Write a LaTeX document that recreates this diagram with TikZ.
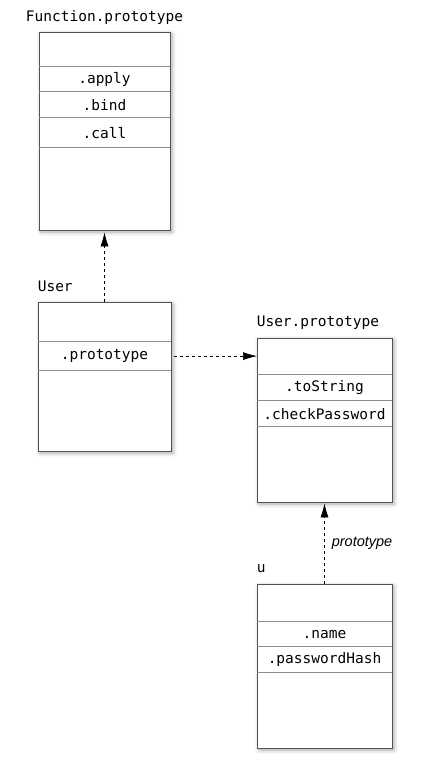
\documentclass[tikz,border=0pt]{standalone}
\usepackage{fontspec}
\setmonofont{DejaVu Sans Mono}
\setsansfont{Liberation Sans}
\usetikzlibrary{positioning,shadows.blur,arrows.meta}

\begin{document}
\begin{tikzpicture}[x=1pt,y=-1pt]
    \tikzstyle{obj}=[draw=black!68,fill=white,line width=0.8pt,inner sep=0pt,
                     blur shadow={shadow xshift=2pt,shadow yshift=-2pt,
                                  shadow blur radius=4pt,shadow opacity=35}]
    \tikzstyle{slot}=[inner sep=0pt,outer sep=0pt,
                      font=\ttfamily\fontsize{14.5}{16}\selectfont]
    \tikzstyle{title}=[inner sep=0pt,font=\ttfamily\fontsize{14.5}{16}\selectfont]
    \tikzstyle{sep}=[draw=black!45,line width=0.6pt]
    \tikzstyle{ptr}=[-{Latex[length=14pt,width=8pt]},dash pattern=on 3pt off 3pt,
                     line width=0.6pt]

    \useasboundingbox (0,0) rectangle (446,763);

      \node[obj,minimum width=131pt,minimum height=198pt] (fp) at (104.5,131) {};
      \node[slot,minimum width=131pt,minimum height=35pt,below=0pt of fp.north] (fphead) {};
      \node[slot,minimum width=131pt,minimum height=25pt,below=0pt of fphead] (fpapply) {.apply};
      \node[slot,minimum width=131pt,minimum height=26pt,below=0pt of fpapply] (fpbind) {.bind};
      \node[slot,minimum width=131pt,minimum height=30pt,below=0pt of fpbind] (fpcall) {.call};
      \node[title,anchor=base] (fplabel) at ([yshift=10pt]fp.north) {Function.prototype};

      \node[obj,minimum width=133pt,minimum height=149pt] (user) at (104.5,376.5) {};
      \node[slot,minimum width=133pt,minimum height=40pt,below=0pt of user.north] (userhead) {};
      \node[slot,minimum width=133pt,minimum height=29pt,below=0pt of userhead] (userproto) {.prototype};
      \node[title,anchor=base west] (userlabel) at ([yshift=10pt]user.north west) {User};

      \node[obj,minimum width=135pt,minimum height=164pt] (up) at (324.5,420) {};
      \node[slot,minimum width=135pt,minimum height=37pt,below=0pt of up.north] (uphead) {};
      \node[slot,minimum width=135pt,minimum height=26pt,below=0pt of uphead] (upstr) {.toString};
      \node[slot,minimum width=135pt,minimum height=26pt,below=0pt of upstr] (upcheck) {.checkPassword};
      \node[title,anchor=base west] (uplabel) at ([yshift=11pt]up.north west) {User.prototype};

      \node[obj,minimum width=135pt,minimum height=164pt] (u) at (324.5,666) {};
      \node[slot,minimum width=135pt,minimum height=38pt,below=0pt of u.north] (uhead) {};
      \node[slot,minimum width=135pt,minimum height=25pt,below=0pt of uhead] (uname) {.name};
      \node[slot,minimum width=135pt,minimum height=26pt,below=0pt of uname] (uhash) {.passwordHash};
      \node[title,anchor=base west] (ulabel) at ([yshift=11pt]u.north west) {u};

      \foreach \r in {fphead,fpapply,fpbind,fpcall,userhead,userproto,
                      uphead,upstr,upcheck,uhead,uname,uhash}
        \draw[sep] (\r.south west) -- (\r.south east);

      \draw[ptr,shorten >=2pt] (user.north) -- (fp.south);
      \draw[ptr,shorten <=3pt] (userproto.east) -- (uphead.west);
      \draw[ptr,shorten >=1pt] (u.north) -- node[right=7pt,inner sep=0pt,
            font=\sffamily\itshape\fontsize{14.5}{16}\selectfont] (protolabel) {prototype} (up.south);
    \end{tikzpicture}
\end{document}
